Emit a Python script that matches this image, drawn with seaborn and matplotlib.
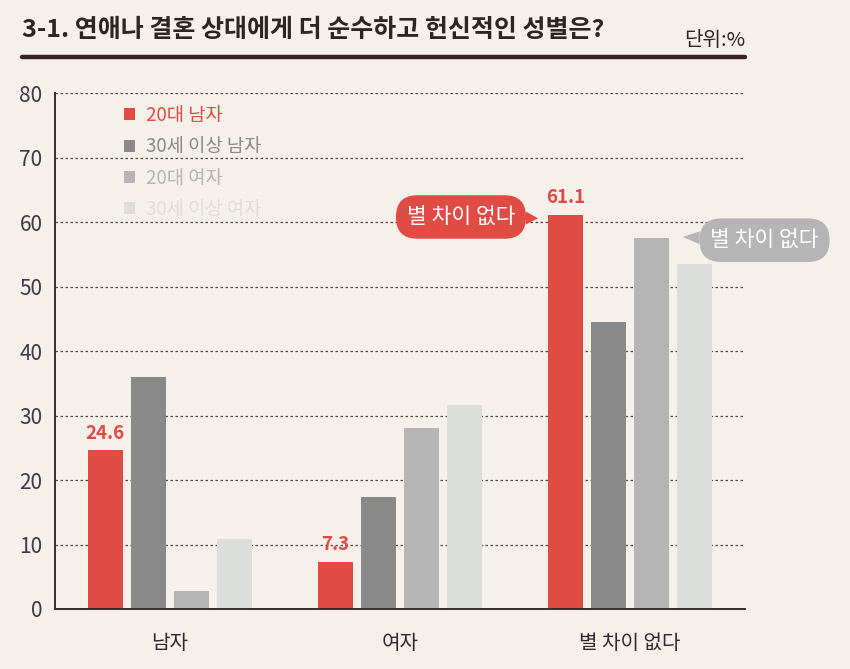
import pandas as pd
import matplotlib.pyplot as plt
import seaborn as sns
from matplotlib.lines import Line2D

# values (unit: %)
categories = ['남자', '여자', '별 차이 없다']
groups = ['20대 남자', '30세 이상 남자', '20대 여자', '30세 이상 여자']
men_20s = [24.6, 7.3, 61.1]
men_30plus = [36.0, 17.4, 44.5]
women_20s = [2.8, 28.1, 57.5]
women_30plus = [10.9, 31.6, 53.5]
y_ticks = [0, 10, 20, 30, 40, 50, 60, 70, 80]

colors = ['#e04c45', '#898989', '#b4b5b4', '#dcdedc']
bg = '#f5f0e9'
dark = '#3b2a2a'

sns.set_theme(style='white')
plt.rcParams['font.family'] = ['Noto Sans CJK KR', 'DejaVu Sans']

rows = []
for g, vals in zip(groups, [men_20s, men_30plus, women_20s, women_30plus]):
    for c, v in zip(categories, vals):
        rows.append({'category': c, 'group': g, 'value': v})
df = pd.DataFrame(rows)

fig = plt.figure(figsize=(8.5, 6.69), dpi=100, facecolor=bg)
ax = fig.add_axes([0.0647, 0.0897, 0.8118, 0.771])
ax.set_facecolor(bg)

sns.barplot(data=df, x='category', y='value', hue='group', order=categories,
            hue_order=groups, palette=colors, width=0.75, gap=0.2,
            linewidth=0, saturation=1, ax=ax)

ax.set_xlim(-0.5, 2.5)
ax.set_ylim(0, 80)
ax.set_yticks(y_ticks)
ax.set_xlabel('')
ax.set_ylabel('')

# grid and axes styling
ax.set_axisbelow(True)
ax.yaxis.grid(True, color='#5a4444', linestyle=(0, (2, 2)), linewidth=0.9)
ax.xaxis.grid(False)
for s in ['top', 'right']:
    ax.spines[s].set_visible(False)
for s in ['left', 'bottom']:
    ax.spines[s].set_color(dark)
    ax.spines[s].set_linewidth(1.4)
ax.tick_params(axis='y', direction='in', length=14, width=1.5, color='#6e6464',
               labelsize=15, labelcolor='#3a3a4a', pad=9)
ax.tick_params(axis='x', length=0, labelsize=14.5, labelcolor='#2e2a30', pad=17)
ax.set_xticks([0.5, 1.5, 2.5], minor=True)
ax.tick_params(axis='x', which='minor', direction='out', length=12, width=1.3,
               color='#6e6464')

# value labels on the 20대 남자 bars
for i, v in enumerate(men_20s):
    ax.text(i - 0.28125, v + 1.2, f'{v}', ha='center', va='bottom',
            fontsize=13.5, fontweight='bold', color=colors[0])

# callout bubbles
ax.annotate('별 차이 없다', xy=(1.6, 60.6), xytext=(1.265, 60.8),
            ha='center', va='center', fontsize=15.5, color='white',
            bbox=dict(boxstyle='round,pad=0.5,rounding_size=1.0', fc=colors[0], ec='none'),
            arrowprops=dict(arrowstyle='wedge,tail_width=0.6,shrink_factor=0.5',
                            fc=colors[0], ec='none', shrinkA=0, shrinkB=0))
ax.annotate('별 차이 없다', xy=(2.23, 57.7), xytext=(2.585, 57.2),
            ha='center', va='center', fontsize=15.5, color='white',
            bbox=dict(boxstyle='round,pad=0.5,rounding_size=1.0', fc=colors[2], ec='none'),
            arrowprops=dict(arrowstyle='wedge,tail_width=0.6,shrink_factor=0.5',
                            fc=colors[2], ec='none', shrinkA=0, shrinkB=0),
            annotation_clip=False)

# legend with coloured labels
handles = [plt.Rectangle((0, 0), 1, 1, fc=c, ec='none') for c in colors]
leg = ax.legend(handles, groups, loc='upper left', bbox_to_anchor=(0.075, 1.01),
                frameon=False, fontsize=13.5, handlelength=0.6, handleheight=0.6,
                handletextpad=0.6, labelspacing=0.55)
for t, c in zip(leg.get_texts(), colors):
    t.set_color(c)

# title, unit and rule
fig.text(0.026, 0.955, '3-1. 연애나 결혼 상대에게 더 순수하고 헌신적인 성별은?',
         ha='left', va='center', fontsize=18, fontweight='bold', color='#2e2424')
fig.text(0.8765, 0.94, '단위:%', ha='right', va='center', fontsize=14.5,
         fontweight='medium', color='#2e2424')
fig.add_artist(Line2D([0.026, 0.8765], [0.915, 0.915], color='#3b2424', linewidth=3.2))

fig.savefig('out.png', dpi=100, facecolor=bg)
